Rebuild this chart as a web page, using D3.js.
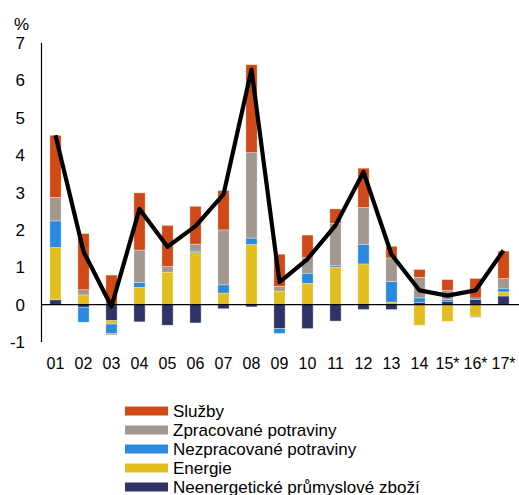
<!DOCTYPE html>
<html>
<head>
<meta charset="utf-8">
<script src="https://cdn.jsdelivr.net/npm/d3@7/dist/d3.min.js"></script>
<style>
  html, body { margin: 0; padding: 0; background: #fff; }
  svg { display: block; font-family: "Liberation Sans", Arial, sans-serif; }
</style>
</head>
<body>
<svg id="chart" width="519" height="495"></svg>
<script>
const categories = ["01","02","03","04","05","06","07","08","09","10","11","12","13","14","15*","16*","17*"];
const seriesNames = ["Neenergetické průmyslové zboží","Energie","Nezpracované potraviny","Zpracované potraviny","Služby"];
const neenergeticke = [0.13,-0.07,-0.43,-0.46,-0.55,-0.49,-0.11,-0.06,-0.64,-0.64,-0.44,-0.13,-0.13,0.06,0.09,0.14,0.23];
const energie       = [1.40,0.26,-0.09,0.46,0.87,1.39,0.31,1.61,0.36,0.57,1.00,1.09,0.07,-0.55,-0.45,-0.31,0.11];
const nezpracovane  = [0.71,-0.40,-0.25,0.13,0.00,0.04,0.22,0.17,-0.13,0.27,0.04,0.52,0.55,0.12,0.05,0.04,0.10];
const zpracovane    = [0.63,0.14,-0.04,0.87,0.15,0.19,1.47,2.29,0.13,0.42,1.14,0.99,0.63,0.55,0.24,-0.03,0.26];
const sluzby        = [1.66,1.50,0.79,1.53,1.10,1.01,1.05,2.35,0.86,0.60,0.38,1.05,0.31,0.21,0.29,0.52,0.73];
const total         = [4.53,1.42,-0.05,2.56,1.55,2.10,2.95,6.29,0.60,1.22,2.12,3.55,1.34,0.38,0.24,0.38,1.45];
const yTicks = [-1,0,1,2,3,4,5,6,7];
const colors = ["#2E3466","#E3BE1F","#2B8ADF","#A39890","#CF4A17"];

const seriesValues = [neenergeticke, energie, nezpracovane, zpracovane, sluzby];
const rows = categories.map((c,i) => {
  const r = {cat: c};
  seriesNames.forEach((n,k) => r[n] = seriesValues[k][i]);
  return r;
});

const svg = d3.select("#chart");
const x = d3.scaleBand().domain(categories).range([41.5, 517.5]).paddingInner(0.6).paddingOuter(0.3);
const y = d3.scaleLinear().domain([-1, 7]).range([342, 43]);

const stack = d3.stack().keys(seriesNames).offset(d3.stackOffsetDiverging);
const stacked = stack(rows);

svg.append("g").selectAll("g").data(stacked).join("g")
  .attr("fill", (d,i) => colors[i])
  .selectAll("rect").data(d => d).join("rect")
  .attr("x", d => x(d.data.cat))
  .attr("width", x.bandwidth())
  .attr("y", d => y(Math.max(d[0], d[1])))
  .attr("height", d => Math.abs(y(d[0]) - y(d[1])))
  .attr("stroke", "rgba(255,255,255,0.45)")
  .attr("stroke-width", 0.7);

// zero line
svg.append("line").attr("x1", 41.5).attr("x2", 519).attr("y1", y(0)).attr("y2", y(0))
  .attr("stroke", "#000").attr("stroke-width", 1.2);
// y axis line
svg.append("line").attr("x1", 41.5).attr("x2", 41.5).attr("y1", y(7)).attr("y2", y(-1))
  .attr("stroke", "#000").attr("stroke-width", 1.2);

// y tick labels
svg.append("g").selectAll("text").data(yTicks).join("text")
  .attr("x", 25).attr("y", d => y(d) + 6)
  .attr("text-anchor", "end").attr("font-size", 17).attr("fill", "#000")
  .text(d => d);
svg.append("text").attr("x", 14).attr("y", 30).attr("font-size", 17).text("%");

// x labels
svg.append("g").selectAll("text").data(categories).join("text")
  .attr("x", d => x(d) + x.bandwidth()/2).attr("y", 368.5)
  .attr("text-anchor", "middle").attr("font-size", 16).attr("fill", "#000")
  .text(d => d);

// total line
const line = d3.line().x((d,i) => x(categories[i]) + x.bandwidth()/2).y(d => y(d));
svg.append("path").datum(total).attr("d", line)
  .attr("fill", "none").attr("stroke", "#000").attr("stroke-width", 4.2)
  .attr("stroke-linejoin", "round");

// legend
const legendOrder = [4,3,2,1,0];
const lg = svg.append("g").selectAll("g").data(legendOrder).join("g")
  .attr("transform", (d,i) => `translate(125, ${411 + i*19})`);
lg.append("rect").attr("x", 0).attr("y", -4.5).attr("width", 43).attr("height", 9)
  .attr("fill", d => colors[d]);
lg.append("text").attr("x", 48).attr("y", 6).attr("font-size", 17).attr("fill", "#000")
  .text(d => seriesNames[d]);
</script>
</body>
</html>
